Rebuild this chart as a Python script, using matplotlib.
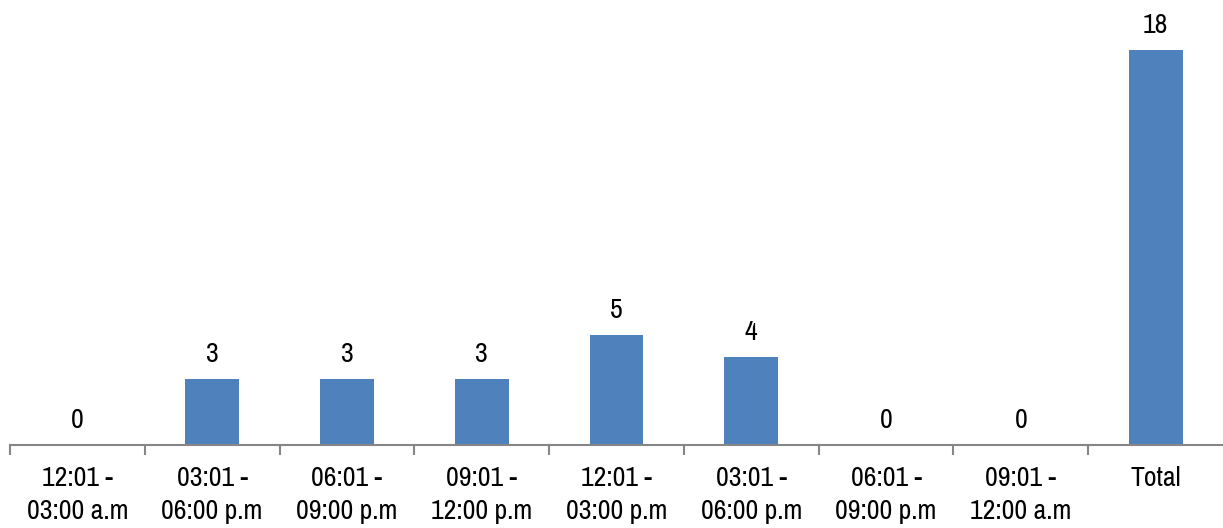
import numpy as np
import matplotlib
matplotlib.use('Agg')
from matplotlib import pyplot as plt

# Dữ liệu
categories = ['12:01 -\n03:00 a.m', '03:01 -\n06:00 p.m', '06:01 -\n09:00 p.m',
              '09:01 -\n12:00 p.m', '12:01 -\n03:00 p.m', '03:01 -\n06:00 p.m',
              '06:01 -\n09:00 p.m', '09:01 -\n12:00 a.m', 'Total']
values = [0, 3, 3, 3, 5, 4, 0, 0, 18]

plt.rcParams['font.family'] = ['Archivo Narrow', 'Liberation Sans', 'DejaVu Sans']

fig = plt.figure(figsize=(12.23, 5.28), dpi=100)
ax = fig.add_axes([10 / 1223, 1 - 445 / 528, 1 - 10 / 1223, 445 / 528])

x = np.arange(len(categories))
ax.bar(x, values, width=0.4, color='#4F81BD')

# Nhãn giá trị trên cột
for xi, v in zip(x, values):
    ax.annotate(str(v), (xi, v), xytext=(0, 9), textcoords='offset points',
                ha='center', va='bottom', fontsize=20)

ax.set_xlim(-0.5, len(categories) - 0.5)
ax.set_ylim(0, 20.3)

ax.set_xticks(x)
ax.set_xticklabels(categories, fontsize=20, linespacing=1.4)
ax.tick_params(axis='x', which='major', length=0, pad=15)
ax.set_xticks(np.arange(len(categories)) - 0.5, minor=True)
ax.tick_params(axis='x', which='minor', length=7, width=1.5, color='#868686')
ax.set_yticks([])

for s in ['top', 'right', 'left']:
    ax.spines[s].set_visible(False)
ax.spines['bottom'].set_color('#868686')
ax.spines['bottom'].set_linewidth(1.5)

plt.savefig('out.png', dpi=100)
